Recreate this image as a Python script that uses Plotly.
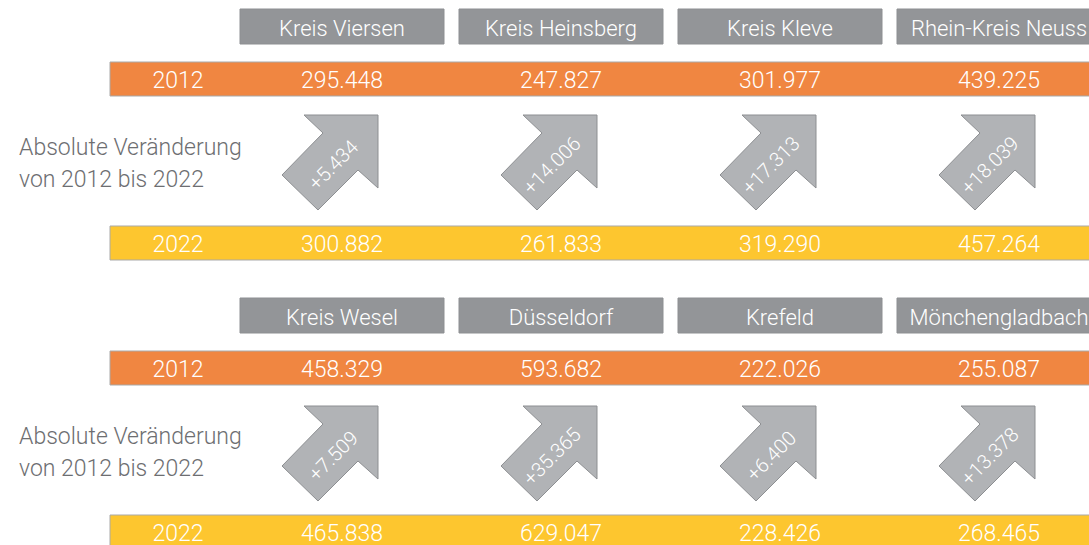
import plotly.graph_objects as go

# ---- data ----
regions = ["Kreis Viersen", "Kreis Heinsberg", "Kreis Kleve", "Rhein-Kreis Neuss",
           "Kreis Wesel", "Düsseldorf", "Krefeld", "Mönchengladbach"]
values_2012 = [295448, 247827, 301977, 439225, 458329, 593682, 222026, 255087]
values_2022 = [300882, 261833, 319290, 457264, 465838, 629047, 228426, 268465]
changes = [5434, 14006, 17313, 18039, 7509, 35365, 6400, 13378]
years = ["2012", "2022"]
side_label = ["Absolute Veränderung", "von 2012 bis 2022"]

# ---- style ----
W, H = 1089, 545
ORANGE = "#f08641"
YELLOW = "#fdc62f"
HEAD_GREY = "#939598"
ARROW_GREY = "#b1b3b6"
EDGE = "#8d8f92"
TXT_GREY = "#6d6e71"
FONT = "Roboto"

col_centers = [342, 561, 780, 999]
row_offsets = [0, 289]
arrow_offsets = [0, 291]

def fmt(v):
    return f"{v:,}".replace(",", ".")

fig = go.Figure()
shapes = []
annotations = []

text_x, text_y, text_s = [], [], []
head_x, head_y, head_s = [], [], []

for r, off in enumerate(row_offsets):
    shapes.append(dict(type="rect", x0=110, x1=W + 10, y0=62 + off, y1=96 + off,
                       fillcolor=ORANGE, line=dict(color="#a9a9a9", width=1), layer="below"))
    shapes.append(dict(type="rect", x0=110, x1=W + 10, y0=226 + off, y1=260 + off,
                       fillcolor=YELLOW, line=dict(color="#a9a9a9", width=1), layer="below"))
    text_x += [178, 178]
    text_y += [82 + off, 246 + off]
    text_s += years
    for k, line in enumerate(side_label):
        annotations.append(dict(x=17, y=147 + off + 32 * k, text=line, showarrow=False,
                                xanchor="left", yanchor="middle",
                                font=dict(family=FONT, size=23, color=TXT_GREY, weight=300)))
    for c in range(4):
        i = r * 4 + c
        cx = col_centers[c]
        shapes.append(dict(type="rect", x0=cx - 102, x1=cx + 102, y0=9 + off, y1=44 + off,
                           fillcolor=HEAD_GREY, line=dict(color=EDGE, width=1), layer="below"))
        head_x.append(cx); head_y.append(30 + off); head_s.append(regions[i])
        text_x += [cx, cx]
        text_y += [82 + off, 246 + off]
        text_s += [fmt(values_2012[i]), fmt(values_2022[i])]
        ao = arrow_offsets[r]
        pts = [(cx + 36, 115), (cx + 36, 188), (cx + 16, 170), (cx - 24, 210),
               (cx - 60, 175), (cx - 19, 133), (cx - 38, 115)]
        path = "M " + " L ".join(f"{x},{y + ao}" for x, y in pts) + " Z"
        shapes.append(dict(type="path", path=path, fillcolor=ARROW_GREY,
                           line=dict(color=EDGE, width=1), layer="below"))
        annotations.append(dict(x=cx - 9, y=165 + ao, text="+" + fmt(changes[i]),
                                showarrow=False, textangle=-45,
                                font=dict(family=FONT, size=20, color="white", weight=300)))

fig.add_trace(go.Scatter(x=text_x, y=text_y, text=text_s, mode="text", cliponaxis=False,
                         textfont=dict(family=FONT, size=23, color="white", weight=300),
                         hoverinfo="skip", showlegend=False))
fig.add_trace(go.Scatter(x=head_x, y=head_y, text=head_s, mode="text", cliponaxis=False,
                         textfont=dict(family=FONT, size=22, color="white", weight=300),
                         hoverinfo="skip", showlegend=False))

fig.update_layout(
    width=W, height=H, margin=dict(l=0, r=0, t=0, b=0),
    paper_bgcolor="white", plot_bgcolor="white",
    xaxis=dict(range=[0, W], visible=False, fixedrange=True),
    yaxis=dict(range=[H, 0], visible=False, fixedrange=True),
    shapes=shapes, annotations=annotations, showlegend=False,
)
fig.write_html("out.html", config={"displayModeBar": False},
               post_script="document.body.style.margin='0';document.body.style.overflow='hidden';")
